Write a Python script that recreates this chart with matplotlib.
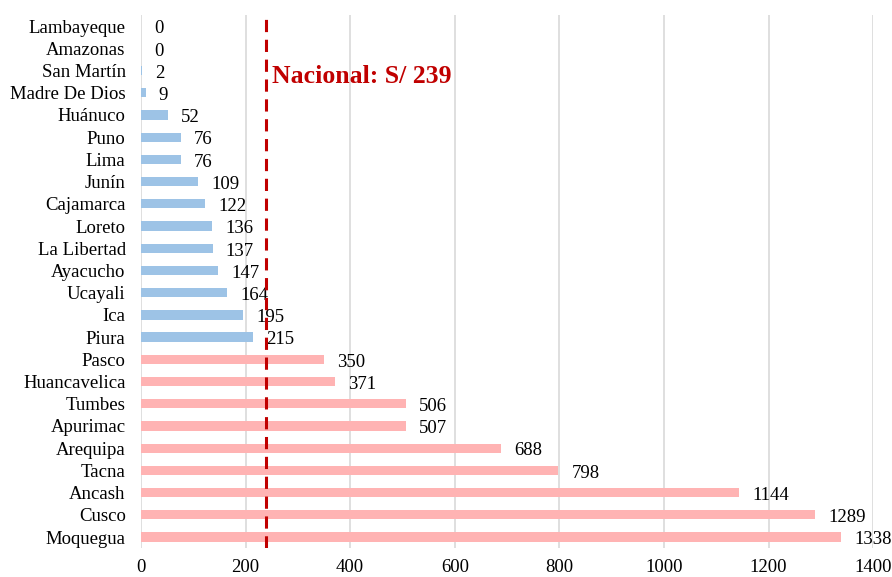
"""Horizontal bar chart of regional values against the national reference."""

import matplotlib

matplotlib.use("Agg")
import matplotlib.pyplot as plt

regions = [
    "Moquegua", "Cusco", "Ancash", "Tacna", "Arequipa", "Apurimac", "Tumbes",
    "Huancavelica", "Pasco", "Piura", "Ica", "Ucayali", "Ayacucho", "La Libertad",
    "Loreto", "Cajamarca", "Junín", "Lima", "Puno", "Huánuco", "Madre De Dios",
    "San Martín", "Amazonas", "Lambayeque",
]
values = [
    1338, 1289, 1144, 798, 688, 507, 506,
    371, 350, 215, 195, 164, 147, 137,
    136, 122, 109, 76, 76, 52, 9,
    2, 0, 0,
]
national_value = 239
national_label = "Nacional: S/ 239"
x_ticks = [0, 200, 400, 600, 800, 1000, 1200, 1400]

ABOVE_COLOR = "#FFB3B3"
BELOW_COLOR = "#9DC3E6"
LINE_COLOR = "#C00000"

plt.rcParams["font.family"] = ["Liberation Serif", "DejaVu Serif"]

figure = plt.figure(figsize=(8.92, 5.77), dpi=100)
axis = figure.add_axes([0.158, 0.050, 0.821, 0.924])

positions = list(range(len(regions)))
colors = [ABOVE_COLOR if v > national_value else BELOW_COLOR for v in values]
axis.barh(positions, values, height=0.42, color=colors, zorder=2)

for pos, val in zip(positions, values):
    axis.annotate(
        f"{val}",
        xy=(val, pos),
        xytext=(9.5, -2),
        textcoords="offset points",
        ha="left",
        va="center",
        fontsize=13.5,
        zorder=3,
    )

axis.axvline(national_value, color=LINE_COLOR, linewidth=2.2,
             linestyle=(0, (4, 2.5)), zorder=4)
axis.text(national_value + 12, 20.75, national_label, color=LINE_COLOR,
          fontsize=18.5, fontweight="bold", ha="left", va="center", zorder=4)

axis.set_xlim(0, 1400)
axis.set_ylim(-0.5, len(regions) - 0.5)
axis.set_xticks(x_ticks)
axis.set_yticks(positions)
axis.set_yticklabels(regions)
axis.tick_params(axis="both", length=0, labelsize=13.5)
axis.tick_params(axis="x", pad=8)
axis.tick_params(axis="y", pad=11)

axis.grid(axis="x", color="#D9D9D9", linewidth=1.2, zorder=0)
axis.set_axisbelow(True)
for spine in axis.spines.values():
    spine.set_visible(False)

figure.savefig("out.png", dpi=100)
plt.close(figure)
